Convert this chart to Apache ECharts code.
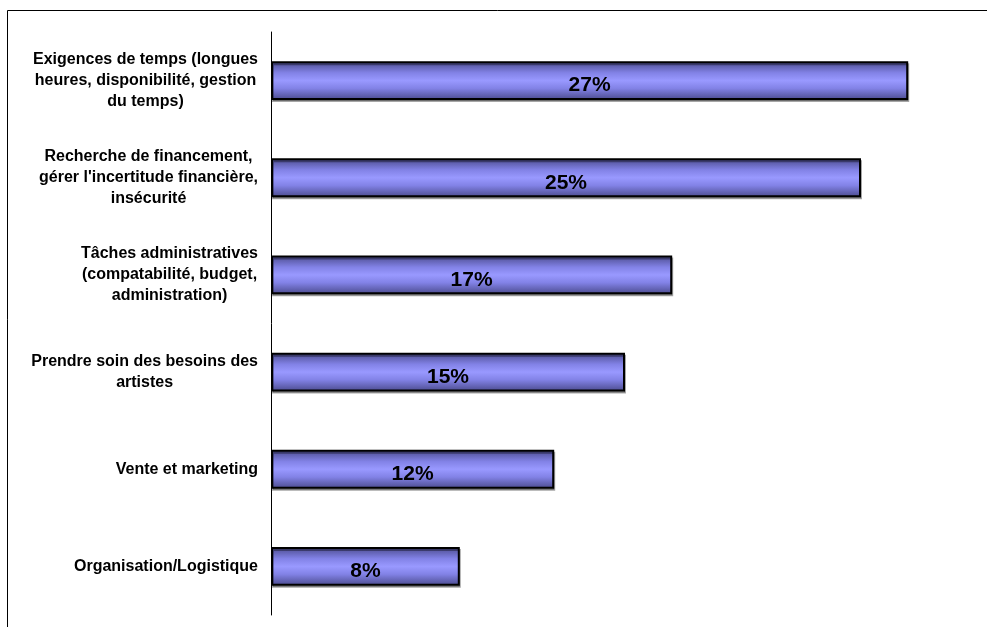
<!DOCTYPE html>
<html>
<head>
<meta charset="utf-8">
<script src="https://cdn.jsdelivr.net/npm/echarts@6/dist/echarts.min.js"></script>
<style>
html,body{margin:0;padding:0;background:#fff;}
#chart{width:987px;height:627px;}
</style>
</head>
<body>
<div id="chart"></div>
<script>
var categories = [
  "Exigences de temps (longues\nheures, disponibilité, gestion\ndu temps)",
  "Recherche de financement,\ngérer l'incertitude financière,\ninsécurité",
  "Tâches administratives\n(compatabilité, budget,\nadministration)",
  "Prendre soin des besoins des\nartistes",
  "Vente et marketing",
  "Organisation/Logistique"
];
var values = [27, 25, 17, 15, 12, 8];

var chart = echarts.init(document.getElementById('chart'));
var barColor = new echarts.graphic.LinearGradient(0, 0, 0, 1, [
  {offset: 0, color: '#4a4a8c'},
  {offset: 0.3, color: '#8282e6'},
  {offset: 0.5, color: '#9999ff'},
  {offset: 0.7, color: '#8282e6'},
  {offset: 1, color: '#4a4a8c'}
]);
chart.setOption({
  animation: false,
  backgroundColor: '#fff',
  graphic: [{
    type: 'rect',
    shape: {x: 7.5, y: 10.5, width: 1000, height: 700},
    style: {fill: 'none', stroke: '#000', lineWidth: 1},
    silent: true
  }],
  grid: {left: 271, top: 32, right: 8, bottom: 12, containLabel: false},
  xAxis: {
    type: 'value', min: 0, max: 30,
    show: false
  },
  yAxis: {
    type: 'category',
    data: categories,
    inverse: true,
    axisLine: {show: true, lineStyle: {color: '#000', width: 1}},
    axisTick: {show: false},
    axisLabel: {
      margin: 13,
      align: 'right',
      formatter: function (v) {
        return v.split('\n').map(function (l) { return '{c|' + l + '}'; }).join('\n');
      },
      rich: {
        c: {
          align: 'center',
          fontFamily: 'Liberation Sans, Arial, sans-serif',
          fontWeight: 'bold',
          fontSize: 16,
          lineHeight: 21,
          color: '#000'
        }
      }
    }
  },
  series: [{
    type: 'bar',
    data: values,
    barWidth: '40%',
    itemStyle: {
      color: barColor,
      borderColor: '#000',
      borderWidth: 2,
      shadowColor: 'rgba(0,0,0,0.35)',
      shadowOffsetX: 1,
      shadowOffsetY: 2,
      shadowBlur: 0
    },
    label: {
      show: true,
      position: 'inside',
      offset: [0, 5],
      formatter: '{c}%',
      fontFamily: 'Liberation Sans, Arial, sans-serif',
      fontWeight: 'bold',
      fontSize: 21,
      color: '#000'
    }
  }]
});
</script>
</body>
</html>
